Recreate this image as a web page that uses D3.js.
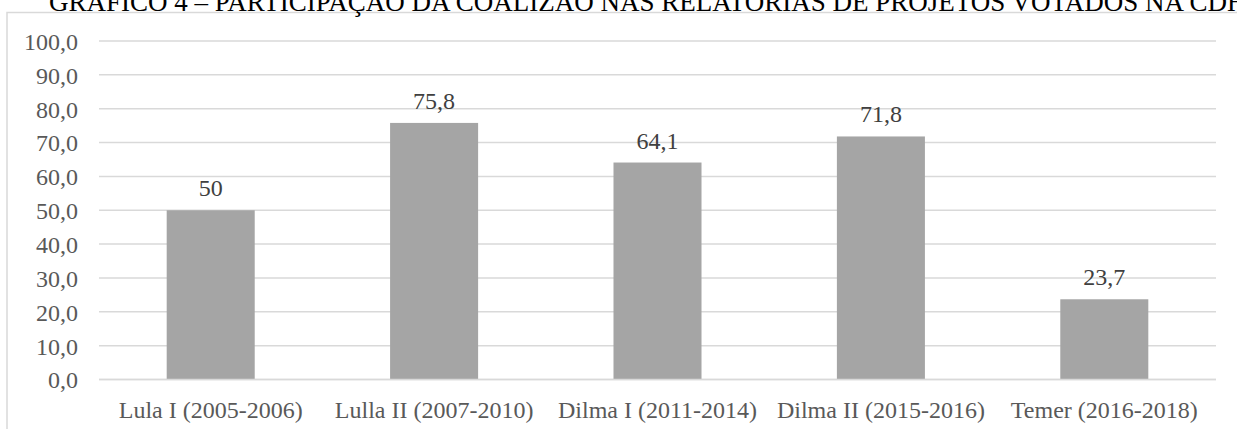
<!DOCTYPE html>
<html>
<head>
<meta charset="utf-8">
<script src="https://cdn.jsdelivr.net/npm/d3@7"></script>
<style>
  html, body { margin: 0; padding: 0; background: #fff; }
  svg { display: block; }
  svg text { font-family: "Liberation Serif", "Times New Roman", serif !important; }
</style>
</head>
<body>
<svg id="chart" width="1237" height="429"></svg>
<script>
const title = "GRÁFICO 4 – PARTICIPAÇÃO DA COALIZÃO NAS RELATORIAS DE PROJETOS VOTADOS NA CDH";
const categories = ["Lula I (2005-2006)", "Lulla II (2007-2010)", "Dilma I (2011-2014)", "Dilma II (2015-2016)", "Temer (2016-2018)"];
const values = [50, 75.8, 64.1, 71.8, 23.7];
const valueLabels = ["50", "75,8", "64,1", "71,8", "23,7"];
const yTicks = [0, 10, 20, 30, 40, 50, 60, 70, 80, 90, 100];
const yTickLabels = ["0,0", "10,0", "20,0", "30,0", "40,0", "50,0", "60,0", "70,0", "80,0", "90,0", "100,0"];

const svg = d3.select("#chart");
const W = 1237, H = 429;
const plot = { left: 99, right: 1216, top: 41, bottom: 379.5 };
const FS = 24;

// outer chart border
svg.append("rect")
  .attr("x", 7).attr("y", 12.5)
  .attr("width", W + 20).attr("height", H + 20)
  .attr("fill", "none").attr("stroke", "#d9d9d9").attr("stroke-width", 1.5);

// title (partly cut off at top, as in the reference)
svg.append("text")
  .attr("x", 49).attr("y", 11)
  .attr("font-size", 27)
  .attr("fill", "#000")
  .text(title);

const x = d3.scaleBand()
  .domain(categories)
  .range([plot.left, plot.right])
  .paddingInner(0.606)
  .paddingOuter(0.303);

const y = d3.scaleLinear()
  .domain([0, 100])
  .range([plot.bottom, plot.top]);

// gridlines
svg.append("g")
  .selectAll("line")
  .data(yTicks)
  .join("line")
  .attr("x1", plot.left).attr("x2", plot.right)
  .attr("y1", d => y(d)).attr("y2", d => y(d))
  .attr("stroke", "#d9d9d9").attr("stroke-width", 1.5);

// y axis labels
const yAxis = d3.axisLeft(y)
  .tickValues(yTicks)
  .tickFormat((d, i) => yTickLabels[i])
  .tickSize(0)
  .tickPadding(0);
const yg = svg.append("g")
  .attr("transform", `translate(78,0)`)
  .call(yAxis);
yg.attr("font-family", null).attr("font-size", null);
yg.select(".domain").remove();
yg.selectAll("text")
  .attr("font-size", FS)
  .attr("fill", "#595959")
  .attr("dy", "0.35em");

// bars
svg.append("g")
  .selectAll("rect")
  .data(values)
  .join("rect")
  .attr("x", (d, i) => x(categories[i]))
  .attr("width", x.bandwidth())
  .attr("y", d => y(d))
  .attr("height", d => y(0) - y(d))
  .attr("fill", "#a5a5a5");

// redraw baseline over bars
svg.append("line")
  .attr("x1", plot.left).attr("x2", plot.right)
  .attr("y1", y(0)).attr("y2", y(0))
  .attr("stroke", "#d9d9d9").attr("stroke-width", 1.5);

// value labels
svg.append("g")
  .selectAll("text")
  .data(values)
  .join("text")
  .attr("x", (d, i) => x(categories[i]) + x.bandwidth() / 2)
  .attr("y", d => y(d) - 14)
  .attr("text-anchor", "middle")
  .attr("font-size", FS)
  .attr("fill", "#404040")
  .text((d, i) => valueLabels[i]);

// x axis labels
const xAxis = d3.axisBottom(x).tickSize(0).tickPadding(0);
const xg = svg.append("g")
  .attr("transform", `translate(0,${plot.bottom})`)
  .call(xAxis);
xg.attr("font-family", null).attr("font-size", null);
xg.select(".domain").remove();
xg.selectAll("text")
  .attr("font-size", FS)
  .attr("fill", "#595959")
  .attr("dy", 0)
  .attr("y", 38);
</script>
</body>
</html>
